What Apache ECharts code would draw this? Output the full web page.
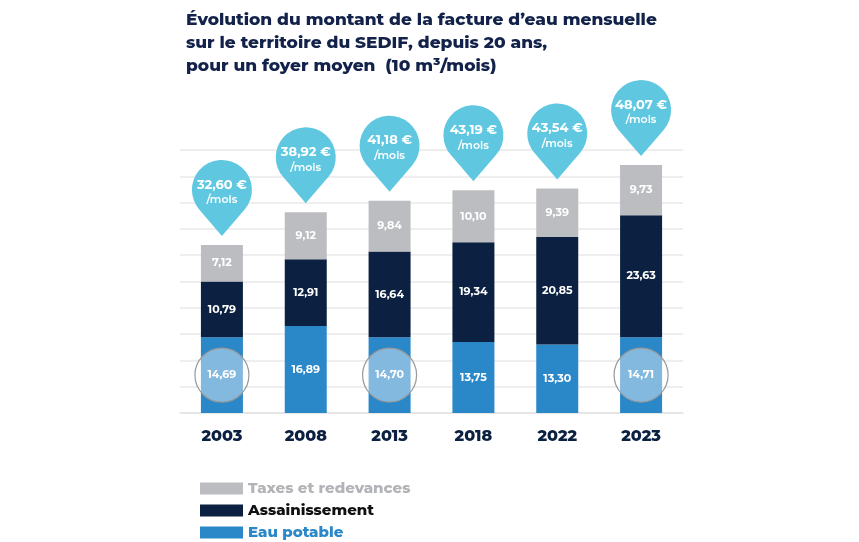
<!DOCTYPE html>
<html>
<head>
<meta charset="utf-8">
<script src="https://cdn.jsdelivr.net/npm/echarts@6/dist/echarts.min.js"></script>
<style>
  html, body {margin: 0; padding: 0; background: #fff;}
  #chart {width: 859px; height: 542px;}
</style>
</head>
<body>
<div id="chart"></div>
<script>
// Data
var years = ['2003', '2008', '2013', '2018', '2022', '2023'];
var eauPotable = [14.69, 16.89, 14.70, 13.75, 13.30, 14.71];
var assainissement = [10.79, 12.91, 16.64, 19.34, 20.85, 23.63];
var taxes = [7.12, 9.12, 9.84, 10.10, 9.39, 9.73];
var totals = [32.60, 38.92, 41.18, 43.19, 43.54, 48.07];
var circledYears = ['2003', '2013', '2023'];

var FONT = 'Montserrat, "DejaVu Sans", sans-serif';
var NAVY = '#0c2142';
var BLUE = '#2a87c8';
var GREY = '#bcbdc1';
var PIN = '#5fc8e0';

function fr(v) {
  return v.toFixed(2).replace('.', ',');
}

function initChart() {
  var el = document.getElementById('chart');
  var chart = echarts.init(el);

  var barLabel = {
    show: true,
    position: 'inside',
    color: '#fff',
    fontFamily: FONT,
    fontWeight: 'bold',
    fontSize: 11,
    formatter: function(p) { return fr(p.value); }
  };

  // the circled "eau potable" values get their label drawn by the circle series
  var eauData = eauPotable.map(function(v, i) {
    var circled = circledYears.indexOf(years[i]) >= 0;
    return {value: v, label: {show: !circled}};
  });

  var pinData = totals.map(function(t, i) { return [i, t]; });
  var circleData = [];
  for (var i = 0; i < years.length; i++) {
    if (circledYears.indexOf(years[i]) >= 0) circleData.push([i, eauPotable[i]]);
  }

  chart.setOption({
    animation: false,
    title: {
      text: 'Évolution du montant de la facture d\u2019eau mensuelle\nsur le territoire du SEDIF, depuis 20 ans,\npour un foyer moyen  (10 m\u00b3/mois)',
      left: 181,
      top: 3,
      textStyle: {
        fontFamily: FONT,
        fontWeight: 800,
        fontSize: 17,
        lineHeight: 23,
        color: '#13224a'
      }
    },
    legend: {
      orient: 'vertical',
      left: 200,
      top: 481,
      padding: 0,
      itemWidth: 43,
      itemHeight: 12,
      itemGap: 7,
      icon: 'rect',
      selectedMode: false,
      textStyle: {fontFamily: FONT, fontWeight: 800, fontSize: 15, lineHeight: 13},
      data: [
        {name: 'Taxes et redevances', textStyle: {color: '#b3b4b8'}},
        {name: 'Assainissement', textStyle: {color: '#111'}},
        {name: 'Eau potable', textStyle: {color: BLUE}}
      ]
    },
    grid: {
      left: 180,
      right: 176,
      top: 150,
      bottom: 129
    },
    xAxis: {
      type: 'category',
      data: years,
      axisTick: {show: false},
      axisLine: {lineStyle: {color: '#e4e4e4', width: 1.5}},
      axisLabel: {
        margin: 15,
        fontFamily: FONT,
        fontWeight: 800,
        fontSize: 16,
        color: NAVY
      }
    },
    yAxis: {
      type: 'value',
      min: 0,
      max: 51,
      interval: 5.1,
      axisLabel: {show: false},
      axisTick: {show: false},
      axisLine: {show: false},
      splitLine: {lineStyle: {color: '#e8e8e8', width: 1.5}}
    },
    series: [
      {
        name: 'Eau potable',
        type: 'bar',
        stack: 'total',
        barWidth: 42,
        data: eauData,
        itemStyle: {color: BLUE},
        label: barLabel
      },
      {
        name: 'Assainissement',
        type: 'bar',
        stack: 'total',
        barWidth: 42,
        data: assainissement,
        itemStyle: {color: NAVY},
        label: barLabel
      },
      {
        name: 'Taxes et redevances',
        type: 'bar',
        stack: 'total',
        barWidth: 42,
        data: taxes,
        itemStyle: {color: GREY},
        label: barLabel
      },
      {
        // circles over the stable "eau potable" values
        type: 'custom',
        z: 5,
        data: circleData,
        encode: {x: 0, y: 1},
        renderItem: function(params, api) {
          var idx = api.value(0);
          var v = api.value(1);
          var c = api.coord([idx, v / 2]);
          return {
            type: 'group',
            children: [
              {
                type: 'circle',
                shape: {cx: c[0], cy: c[1], r: 27},
                style: {fill: 'rgba(255,255,255,0.42)', stroke: '#9a9a9a', lineWidth: 1.2}
              },
              {
                type: 'text',
                x: c[0],
                y: c[1],
                style: {
                  text: fr(v),
                  fill: '#fff',
                  fontFamily: FONT,
                  fontWeight: 'bold',
                  fontSize: 11,
                  align: 'center',
                  verticalAlign: 'middle'
                }
              }
            ]
          };
        }
      },
      {
        // teardrop pins with the monthly total
        type: 'custom',
        z: 6,
        clip: false,
        data: pinData,
        encode: {x: 0, y: 1},
        renderItem: function(params, api) {
          var idx = api.value(0);
          var t = api.value(1);
          var top = api.coord([idx, t]);
          var tipX = top[0];
          var tipY = top[1] - 9;
          var r = 30;
          var d = 46;
          var cx = tipX;
          var cy = tipY - d;
          var a = Math.acos(r / d);
          var tx = r * Math.sin(a);
          var ty = r * Math.cos(a);
          var path = 'M' + tipX + ' ' + tipY +
            ' Q' + (cx + tx * 0.55) + ' ' + (cy + ty + 12) + ' ' + (cx + tx) + ' ' + (cy + ty) +
            ' A' + r + ' ' + r + ' 0 1 0 ' + (cx - tx) + ' ' + (cy + ty) +
            ' Q' + (cx - tx * 0.55) + ' ' + (cy + ty + 12) + ' ' + tipX + ' ' + tipY + ' Z';
          return {
            type: 'group',
            children: [
              {
                type: 'path',
                shape: {pathData: path},
                style: {fill: PIN}
              },
              {
                type: 'text',
                x: cx,
                y: cy - 5,
                style: {
                  text: fr(t) + ' \u20ac',
                  fill: '#fff',
                  fontFamily: FONT,
                  fontWeight: 'bold',
                  fontSize: 13,
                  align: 'center',
                  verticalAlign: 'middle'
                }
              },
              {
                type: 'text',
                x: cx,
                y: cy + 10,
                style: {
                  text: '/mois',
                  fill: '#fff',
                  fontFamily: FONT,
                  fontWeight: 600,
                  fontSize: 11,
                  align: 'center',
                  verticalAlign: 'middle'
                }
              }
            ]
          };
        }
      }
    ]
  });
}

initChart();
</script>
</body>
</html>
